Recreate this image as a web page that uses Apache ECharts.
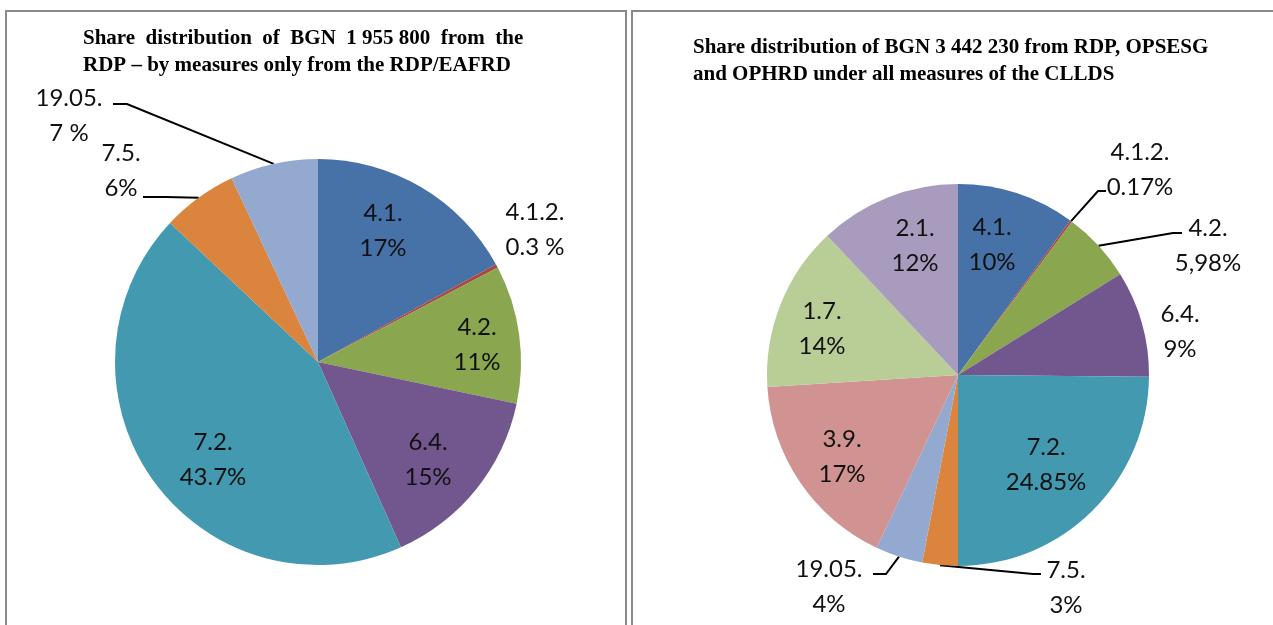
<!DOCTYPE html>
<html>
<head>
<meta charset="utf-8">
<script src="https://cdn.jsdelivr.net/npm/echarts@6/dist/echarts.min.js"></script>
<style>
  html, body { margin: 0; padding: 0; background: #fff; }
  #main { width: 1273px; height: 625px; }
</style>
</head>
<body>
<div id="main"></div>
<script>
// left pie: RDP/EAFRD measures
var leftNames = ['4.1.', '4.1.2.', '4.2.', '6.4.', '7.2.', '7.5.', '19.05.'];
var leftValues = [17, 0.3, 11, 15, 43.7, 6, 7];
var leftPctText = ['17%', '0.3 %', '11%', '15%', '43.7%', '6%', '7 %'];

// right pie: RDP, OPSESG and OPHRD, all CLLDS measures
var rightNames = ['4.1.', '4.1.2.', '4.2.', '6.4.', '7.2.', '7.5.', '19.05.', '3.9.', '1.7.', '2.1.'];
var rightValues = [10, 0.17, 5.98, 9, 24.85, 3, 4, 17, 14, 12];
var rightPctText = ['10%', '0.17%', '5,98%', '9%', '24.85%', '3%', '4%', '17%', '14%', '12%'];

// colours per measure (excel 2007 palette)
var measureColors = {
  '4.1.': '#4672a8', '4.1.2.': '#aa4643', '4.2.': '#8aa64e', '6.4.': '#72578f',
  '7.2.': '#4299b0', '7.5.': '#db843d', '19.05.': '#93a9cf', '3.9.': '#d19392',
  '1.7.': '#b9cd96', '2.1.': '#a99bbd'
};

// label centres and leader line bends (styling only)
var leftLabelPos = [[383, 231], [535, 230], [477, 345], [428, 460], [213, 460], [121, 171], [69, 116]];
var rightLabelPos = [[992, 245], [1140, 170], [1208, 246], [1180, 332], [1046, 465], [1066, 588], [829, 587], [842, 457], [822, 329], [915, 246]];
var leftLeaders = { 5: [[166, 197], [143, 197]], 6: [[127, 104], [113, 104]] };
var rightLeaders = {
  1: [[1098, 191], [1106, 191]],
  2: [[1173, 233], [1182, 233]],
  5: [[1033, 574], [1041, 574]],
  6: [[886, 574], [873, 574]]
};

var pctTexts = [leftPctText, rightPctText];
var labelPos = [leftLabelPos, rightLabelPos];
var leaders = [leftLeaders, rightLeaders];

function buildData(names, values, lines) {
  return names.map(function (n, i) {
    return {
      name: n,
      value: values[i],
      itemStyle: { color: measureColors[n] },
      labelLine: { show: !!lines[i] }
    };
  });
}

function placeLabel(params) {
  var si = params.seriesIndex;
  var p = labelPos[si][params.dataIndex];
  var out = { x: p[0], y: p[1], align: 'center', verticalAlign: 'middle' };
  var bend = leaders[si][params.dataIndex];
  if (bend && params.labelLinePoints) {
    out.labelLinePoints = [params.labelLinePoints[0], bend[0], bend[1]];
  }
  return out;
}

var labelStyle = {
  show: true,
  position: 'outside',
  fontFamily: 'Lato',
  fontSize: 24,
  lineHeight: 35,
  color: '#111',
  formatter: function (p) {
    return p.name + '\n' + pctTexts[p.seriesIndex][p.dataIndex];
  }
};

var titleText = {
  fontFamily: 'Liberation Serif',
  fontWeight: 'bold',
  fontSize: 21,
  lineHeight: 27,
  color: '#000'
};

var myChart = echarts.init(document.getElementById('main'));

var option = {
  backgroundColor: '#fff',
  animation: false,
  title: [
    {
      text: 'Share  distribution  of  BGN  1 955 800  from  the\nRDP \u2013 by measures only from the RDP/EAFRD',
      left: 83,
      top: 25,
      padding: 0,
      textStyle: titleText
    },
    {
      text: 'Share distribution of BGN 3 442 230 from RDP, OPSESG\nand OPHRD under all measures of the CLLDS',
      left: 693,
      top: 34,
      padding: 0,
      textStyle: titleText
    }
  ],
  graphic: [
    { type: 'rect', shape: { x: 6, y: 11, width: 620, height: 700 }, style: { fill: 'none', stroke: '#8a8a8a', lineWidth: 2 } },
    { type: 'rect', shape: { x: 632, y: 11, width: 700, height: 700 }, style: { fill: 'none', stroke: '#8a8a8a', lineWidth: 2 } }
  ],
  series: [
    {
      name: 'RDP/EAFRD',
      type: 'pie',
      center: [318, 362],
      radius: 203,
      startAngle: 90,
      clockwise: true,
      avoidLabelOverlap: false,
      itemStyle: { borderWidth: 0 },
      label: labelStyle,
      labelLine: { show: false, lineStyle: { color: '#000', width: 2 } },
      labelLayout: placeLabel,
      emphasis: { disabled: true },
      data: buildData(leftNames, leftValues, leftLeaders)
    },
    {
      name: 'CLLDS',
      type: 'pie',
      center: [958, 375],
      radius: 191,
      startAngle: 90,
      clockwise: true,
      avoidLabelOverlap: false,
      itemStyle: { borderWidth: 0 },
      label: labelStyle,
      labelLine: { show: false, lineStyle: { color: '#000', width: 2 } },
      labelLayout: placeLabel,
      emphasis: { disabled: true },
      data: buildData(rightNames, rightValues, rightLeaders)
    }
  ]
};

myChart.setOption(option);
</script>
</body>
</html>
